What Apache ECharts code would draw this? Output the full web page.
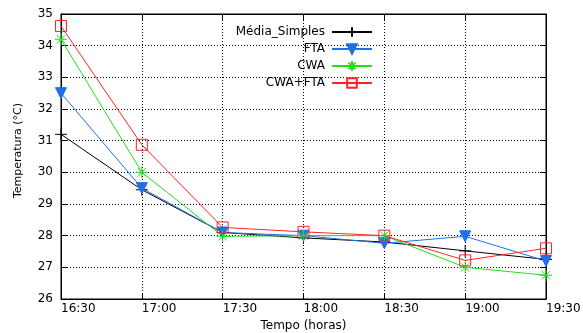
<!DOCTYPE html>
<html>
<head>
<meta charset="utf-8">
<script src="https://cdn.jsdelivr.net/npm/echarts@6/dist/echarts.min.js"></script>
<style>
  html, body { margin: 0; padding: 0; background: #fff; }
  #chart { width: 583px; height: 333px; }
</style>
</head>
<body>
<div id="chart"></div>
<script>
// horários (eixo x) e temperaturas de cada método
const horarios = ['16:30', '17:00', '17:30', '18:00', '18:30', '19:00', '19:30'];
const mediaSimples = [31.2, 29.45, 28.1, 27.93, 27.8, 27.52, 27.25];
const fta = [32.5, 29.5, 28.1, 28.0, 27.76, 27.98, 27.2];
const cwa = [34.2, 30.0, 27.98, 28.0, 28.0, 27.0, 26.75];
const cwaFta = [34.62, 30.87, 28.26, 28.12, 28.0, 27.22, 27.6];
const nomes = ['Média_Simples', 'FTA', 'CWA', 'CWA+FTA'];

const fonte = 'DejaVu Sans';
const plusPath = 'path://M5,0L5,10M0,5L10,5';
const asteriskPath = 'path://M5,0L5,10M0,5L10,5M1.5,1.5L8.5,8.5M8.5,1.5L1.5,8.5';

const chart = echarts.init(document.getElementById('chart'));

function linha(nome, dados, cor, symbol, size, fill, rotate) {
    return {
        name: nome,
        type: 'line',
        data: dados,
        symbol: symbol,
        symbolSize: size,
        symbolRotate: rotate || 0,
        showAllSymbol: true,
        xAxisIndex: 0,
        yAxisIndex: 0,
        lineStyle: { color: cor, width: 1 },
        itemStyle: { color: fill, borderColor: cor, borderWidth: 1 },
        emphasis: { disabled: true },
        animation: false
    };
}

// uma legenda por série, para o texto ficar alinhado à direita como no gnuplot
const legendas = nomes.map((n, i) => ({
    orient: 'vertical',
    right: 210,
    top: 26 + i * 17,
    padding: 0,
    align: 'right',
    itemWidth: 40,
    itemHeight: 12,
    selectedMode: false,
    textStyle: { fontFamily: fonte, fontSize: 12, color: '#000', padding: [0, 2, 0, 0] },
    data: [n]
}));

const option = {
    animation: false,
    textStyle: { fontFamily: fonte },
    grid: {
        left: 61, right: 37, top: 14, bottom: 34,
        outerBoundsMode: 'none',
        show: true, borderColor: '#000', borderWidth: 1, backgroundColor: 'transparent'
    },
    legend: legendas,
    xAxis: [{
        type: 'category',
        data: horarios,
        boundaryGap: false,
        name: 'Tempo (horas)',
        nameLocation: 'middle',
        nameGap: 14,
        nameTextStyle: { fontFamily: fonte, fontSize: 12, color: '#000' },
        axisLine: { lineStyle: { color: '#000' } },
        axisTick: { inside: true, length: 6, lineStyle: { color: '#000' } },
        axisLabel: { color: '#000', fontSize: 12, fontFamily: fonte, align: 'left', margin: 4, showMaxLabel: true },
        splitLine: { show: true, lineStyle: { color: '#000', type: [1, 2] } }
    }, {
        type: 'category',
        data: horarios,
        boundaryGap: false,
        position: 'top',
        axisLine: { lineStyle: { color: '#000' } },
        axisTick: { inside: true, length: 6, lineStyle: { color: '#000' } },
        axisLabel: { show: false },
        splitLine: { show: false }
    }],
    yAxis: [{
        type: 'value',
        min: 26,
        max: 35,
        interval: 1,
        name: 'Temperatura (°C)',
        nameLocation: 'middle',
        nameGap: 37,
        nameTextStyle: { fontFamily: fonte, fontSize: 11, color: '#000', padding: [0, 0, 0, 12] },
        axisLine: { show: true, lineStyle: { color: '#000' } },
        axisTick: { show: true, inside: true, length: 6, lineStyle: { color: '#000' } },
        axisLabel: { color: '#000', fontSize: 12, fontFamily: fonte, margin: 8 },
        splitLine: { show: true, lineStyle: { color: '#000', type: [1, 2] } }
    }, {
        type: 'value',
        min: 26,
        max: 35,
        interval: 1,
        position: 'right',
        axisLine: { show: true, lineStyle: { color: '#000' } },
        axisTick: { show: true, inside: true, length: 6, lineStyle: { color: '#000' } },
        axisLabel: { show: false },
        splitLine: { show: false }
    }],
    series: [
        linha(nomes[0], mediaSimples, '#000000', plusPath, 12, 'rgba(0,0,0,0)'),
        linha(nomes[1], fta, '#1f6fe8', 'triangle', 11, '#1f6fe8', 180),
        linha(nomes[2], cwa, '#1ee01e', asteriskPath, 12, 'rgba(0,0,0,0)'),
        linha(nomes[3], cwaFta, '#ff2424', 'rect', 11, 'rgba(0,0,0,0)')
    ]
};

chart.setOption(option);
</script>
</body>
</html>
